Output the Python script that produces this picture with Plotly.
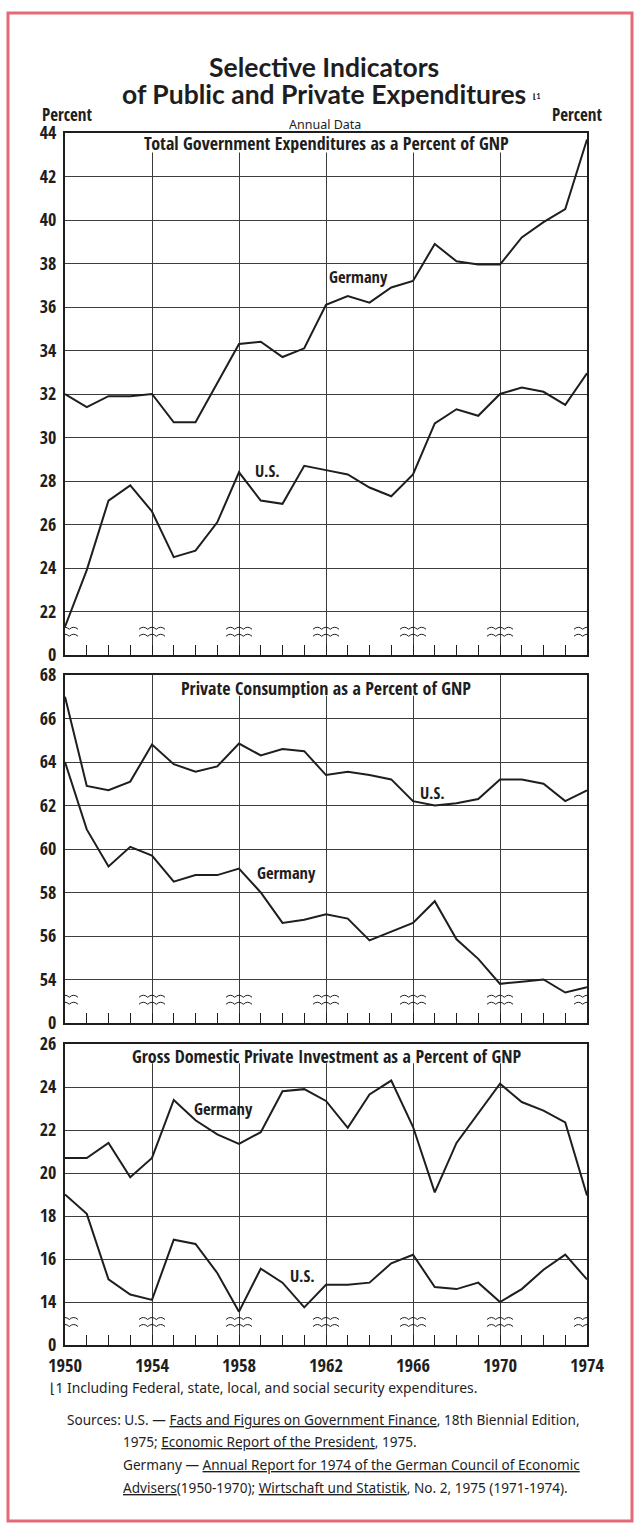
import plotly.graph_objects as go

# ---------------- data ----------------
years = list(range(1950, 1975))

gov_germany = [32.0, 31.4, 31.9, 31.9, 32.0, 30.7, 30.7, 32.5, 34.3, 34.4, 33.7, 34.1, 36.1,
               36.5, 36.2, 36.9, 37.2, 38.9, 38.1, 37.95, 37.95, 39.2, 39.9, 40.5, 43.7]
gov_us = [21.3, 23.9, 27.1, 27.8, 26.6, 24.5, 24.8, 26.1, 28.4, 27.1, 26.95, 28.7, 28.5,
          28.3, 27.7, 27.3, 28.3, 30.65, 31.3, 31.0, 32.0, 32.3, 32.1, 31.5, 32.95]

cons_us = [67.0, 62.9, 62.7, 63.1, 64.8, 63.9, 63.55, 63.8, 64.85, 64.3, 64.6, 64.5, 63.4,
           63.55, 63.4, 63.2, 62.2, 62.0, 62.1, 62.3, 63.2, 63.2, 63.0, 62.2, 62.7]
cons_germany = [64.0, 60.9, 59.2, 60.1, 59.7, 58.5, 58.8, 58.8, 59.1, 58.0, 56.6, 56.75, 57.0,
                56.8, 55.8, 56.2, 56.6, 57.6, 55.85, 54.95, 53.8, 53.9, 54.0, 53.4, 53.65]

inv_germany = [20.7, 20.7, 21.4, 19.8, 20.7, 23.4, 22.45, 21.8, 21.35, 21.9, 23.8, 23.9, 23.35,
               22.1, 23.65, 24.3, 22.15, 19.1, 21.4, 22.8, 24.15, 23.3, 22.9, 22.35, 18.95]
inv_us = [19.0, 18.1, 15.05, 14.35, 14.1, 16.9, 16.7, 15.35, 13.55, 15.55, 14.9, 13.75, 14.8,
          14.8, 14.9, 15.8, 16.2, 14.7, 14.6, 14.9, 14.0, 14.6, 15.5, 16.2, 15.05]

top_ticks = list(range(20, 45, 2))
top_text = ["0"] + [str(v) for v in range(22, 45, 2)]
mid_ticks = list(range(52, 69, 2))
mid_text = ["0"] + [str(v) for v in range(54, 69, 2)]
bot_ticks = list(range(12, 27, 2))
bot_text = ["0"] + [str(v) for v in range(14, 27, 2)]
year_ticks = list(range(1950, 1975, 4))

panel_titles = ["Total Government Expenditures as a Percent of GNP",
                "Private Consumption as a Percent of GNP",
                "Gross Domestic Private Investment as a Percent of GNP"]

# ---------------- layout helpers ----------------
W, H = 640, 1524
L, R = 65, 53
PW = W - L - R


def px(x):
    return (x - L) / PW


def py(y):
    return 1 - y / H


COND = "'Liberation Sans Narrow', 'Open Sans Condensed', 'DejaVu Sans Condensed', 'Arial Narrow', sans-serif"
GEO = "Lato, 'Noto Sans', 'DejaVu Sans', sans-serif"
TXT = "'Noto Sans', 'Open Sans', 'DejaVu Sans', sans-serif"
INK = "#1e1e1e"
GRID = "#3c3c3c"

panels = [  # (top px, bottom px, range, tickvals, ticktext)
    (133, 655, [20, 44], top_ticks, top_text),
    (675, 1023, [52, 68], mid_ticks, mid_text),
    (1044, 1345, [12, 26], bot_ticks, bot_text),
]

fig = go.Figure()

series = [
    (1, gov_germany), (1, gov_us),
    (2, cons_us), (2, cons_germany),
    (3, inv_germany), (3, inv_us),
]
for i, ys in series:
    fig.add_trace(go.Scatter(
        x=years, y=ys, mode="lines",
        line=dict(color=INK, width=2),
        xaxis="x" if i == 1 else f"x{i}",
        yaxis="y" if i == 1 else f"y{i}",
        showlegend=False, hoverinfo="skip"))

layout = dict(
    width=W, height=H,
    margin=dict(l=L, r=R, t=0, b=0, autoexpand=False),
    paper_bgcolor="white", plot_bgcolor="white",
    showlegend=False,
)

tickfont = dict(family=COND, size=18, color=INK, weight="bold")

for i, (t, b, rng, tv, tt) in enumerate(panels, start=1):
    suf = "" if i == 1 else str(i)
    dom = [py(b), py(t)]
    layout[f"xaxis{suf}"] = dict(
        domain=[0, 1], range=[1950, 1974], anchor=f"y{suf}",
        tickmode="linear", tick0=1950, dtick=4,
        showticklabels=(i == 3), tickfont=dict(family=COND, size=18.5, color=INK, weight="bold"),
        ticklabelstandoff=3,
        ticks="inside", ticklen=10, tickwidth=1, tickcolor=INK,
        minor=dict(dtick=1, tick0=1950, ticks="inside", ticklen=10, tickwidth=1,
                   tickcolor=INK, showgrid=False),
        showgrid=True, gridcolor=GRID, gridwidth=1,
        showline=True, mirror=True, linecolor=INK, linewidth=2.2,
        zeroline=False, fixedrange=True, automargin=False,
    )
    layout[f"yaxis{suf}"] = dict(
        domain=dom, range=rng, anchor=f"x{suf}",
        tickmode="array", tickvals=tv, ticktext=tt, tickfont=tickfont,
        ticks="", ticklabelstandoff=3,
        showgrid=True, gridcolor=GRID, gridwidth=1,
        showline=True, mirror=True, linecolor=INK, linewidth=2.2,
        zeroline=False, fixedrange=True, automargin=False,
    )
    layout[f"yaxis{i + 3}"] = dict(
        overlaying=f"y{suf}", side="right", anchor=f"x{suf}", range=rng,
        tickmode="array", tickvals=tv, ticktext=tt, tickfont=tickfont,
        ticks="", ticklabelstandoff=3,
        showgrid=False, showline=False, zeroline=False, fixedrange=True, automargin=False,
    )

fig.update_layout(**layout)

# ---------- masks behind panel titles (hide vertical grid) ----------
masks = [(1953.4, 1970.7, 44, 43.1), (1955.0, 1969.0, 68, 67.05), (1952.6, 1971.5, 26, 25.1)]
for i, (x0, x1, y1, y0) in enumerate(masks, start=1):
    suf = "" if i == 1 else str(i)
    fig.add_shape(type="rect", xref=f"x{suf}", yref=f"y{suf}", x0=x0, x1=x1, y0=y0, y1=y1,
                  fillcolor="white", line=dict(width=0), layer="between")

# ---------- axis break symbols ----------
wave = ("M-13,4 Q-8.7,8 -4.3,4 Q0,8 4.3,4 Q8.7,8 13,4 "
        "M-13,-3 Q-8.7,1 -4.3,-3 Q0,1 4.3,-3 Q8.7,1 13,-3")
break_levels = [21.0, 53.0, 13.0]
for i, lvl in enumerate(break_levels, start=1):
    suf = "" if i == 1 else str(i)
    for yr in year_ticks:
        fig.add_shape(type="path", xref=f"x{suf}", yref=f"y{suf}",
                      xsizemode="pixel", ysizemode="pixel", xanchor=yr, yanchor=lvl,
                      path=wave, line=dict(color=INK, width=1), fillcolor="rgba(0,0,0,0)",
                      layer="above")

# ---------- red frame ----------
fig.add_shape(type="rect", xref="paper", yref="paper",
              x0=px(8), x1=px(632), y0=py(1521), y1=py(13),
              line=dict(color="#e46a78", width=3), fillcolor="rgba(0,0,0,0)", layer="below")

ann = []


def A(text, x, y, size, family=COND, xanchor="center", yanchor="middle", bold=True, **kw):
    ann.append(dict(text=text, x=px(x), y=py(y), xref="paper", yref="paper",
                    xanchor=xanchor, yanchor=yanchor, showarrow=False,
                    font=dict(family=family, size=size, color=INK, weight="bold" if bold else "normal"),
                    **kw))


# titles
A("Selective Indicators", 324, 66, 26.5, family=GEO, height=27)
A("of Public and Private Expenditures <span style='font-size:11px'><sup>⌊1</sup></span>", 331, 94, 26.5,
  family=GEO, height=27)
A("Annual Data", 325, 124, 12.5, family=TXT, bold=False, height=14)
A("Percent", 40, 115, 17, xanchor="left", height=15)
A("Percent", 604, 115, 17, xanchor="right", height=15)

panel_y = [142, 687, 1055]
for t, yy in zip(panel_titles, panel_y):
    A(t, 326, yy, 18, height=21)

# series labels (data coordinates)
labels = [("Germany", 1963.5, 37.4, ""), ("U.S.", 1959.3, 28.5, ""),
          ("U.S.", 1966.9, 62.6, "2"), ("Germany", 1960.2, 58.9, "2"),
          ("Germany", 1957.3, 23.0, "3"), ("U.S.", 1960.9, 15.25, "3")]
for txt, xx, yy, suf in labels:
    ann.append(dict(text=txt, x=xx, y=yy, xref=f"x{suf}", yref=f"y{suf}", showarrow=False,
                    font=dict(family=COND, size=16.5, color=INK, weight="bold")))

# footnote & sources
A("⌊1 Including Federal, state, local, and social security expenditures.", 48, 1387, 13.9,
  family=TXT, xanchor="left", bold=False)
A("Sources: U.S. — <u>Facts and Figures on Government Finance</u>, 18th Biennial Edition,",
  65, 1419, 13.6, family=TXT, xanchor="left", bold=False)
A("1975; <u>Economic Report of the President</u>, 1975.", 121, 1441, 13.6, family=TXT,
  xanchor="left", bold=False)
A("Germany — <u>Annual Report for 1974 of the German Council of Economic</u>", 121, 1464, 13.6,
  family=TXT, xanchor="left", bold=False)
A("<u>Advisers</u>(1950-1970); <u>Wirtschaft und Statistik</u>, No. 2, 1975 (1971-1974).", 121, 1487,
  13.6, family=TXT, xanchor="left", bold=False)

fig.update_layout(annotations=ann)

fig.write_html("out.html", config={"displayModeBar": False},
               post_script="document.body.style.margin='0px';")
